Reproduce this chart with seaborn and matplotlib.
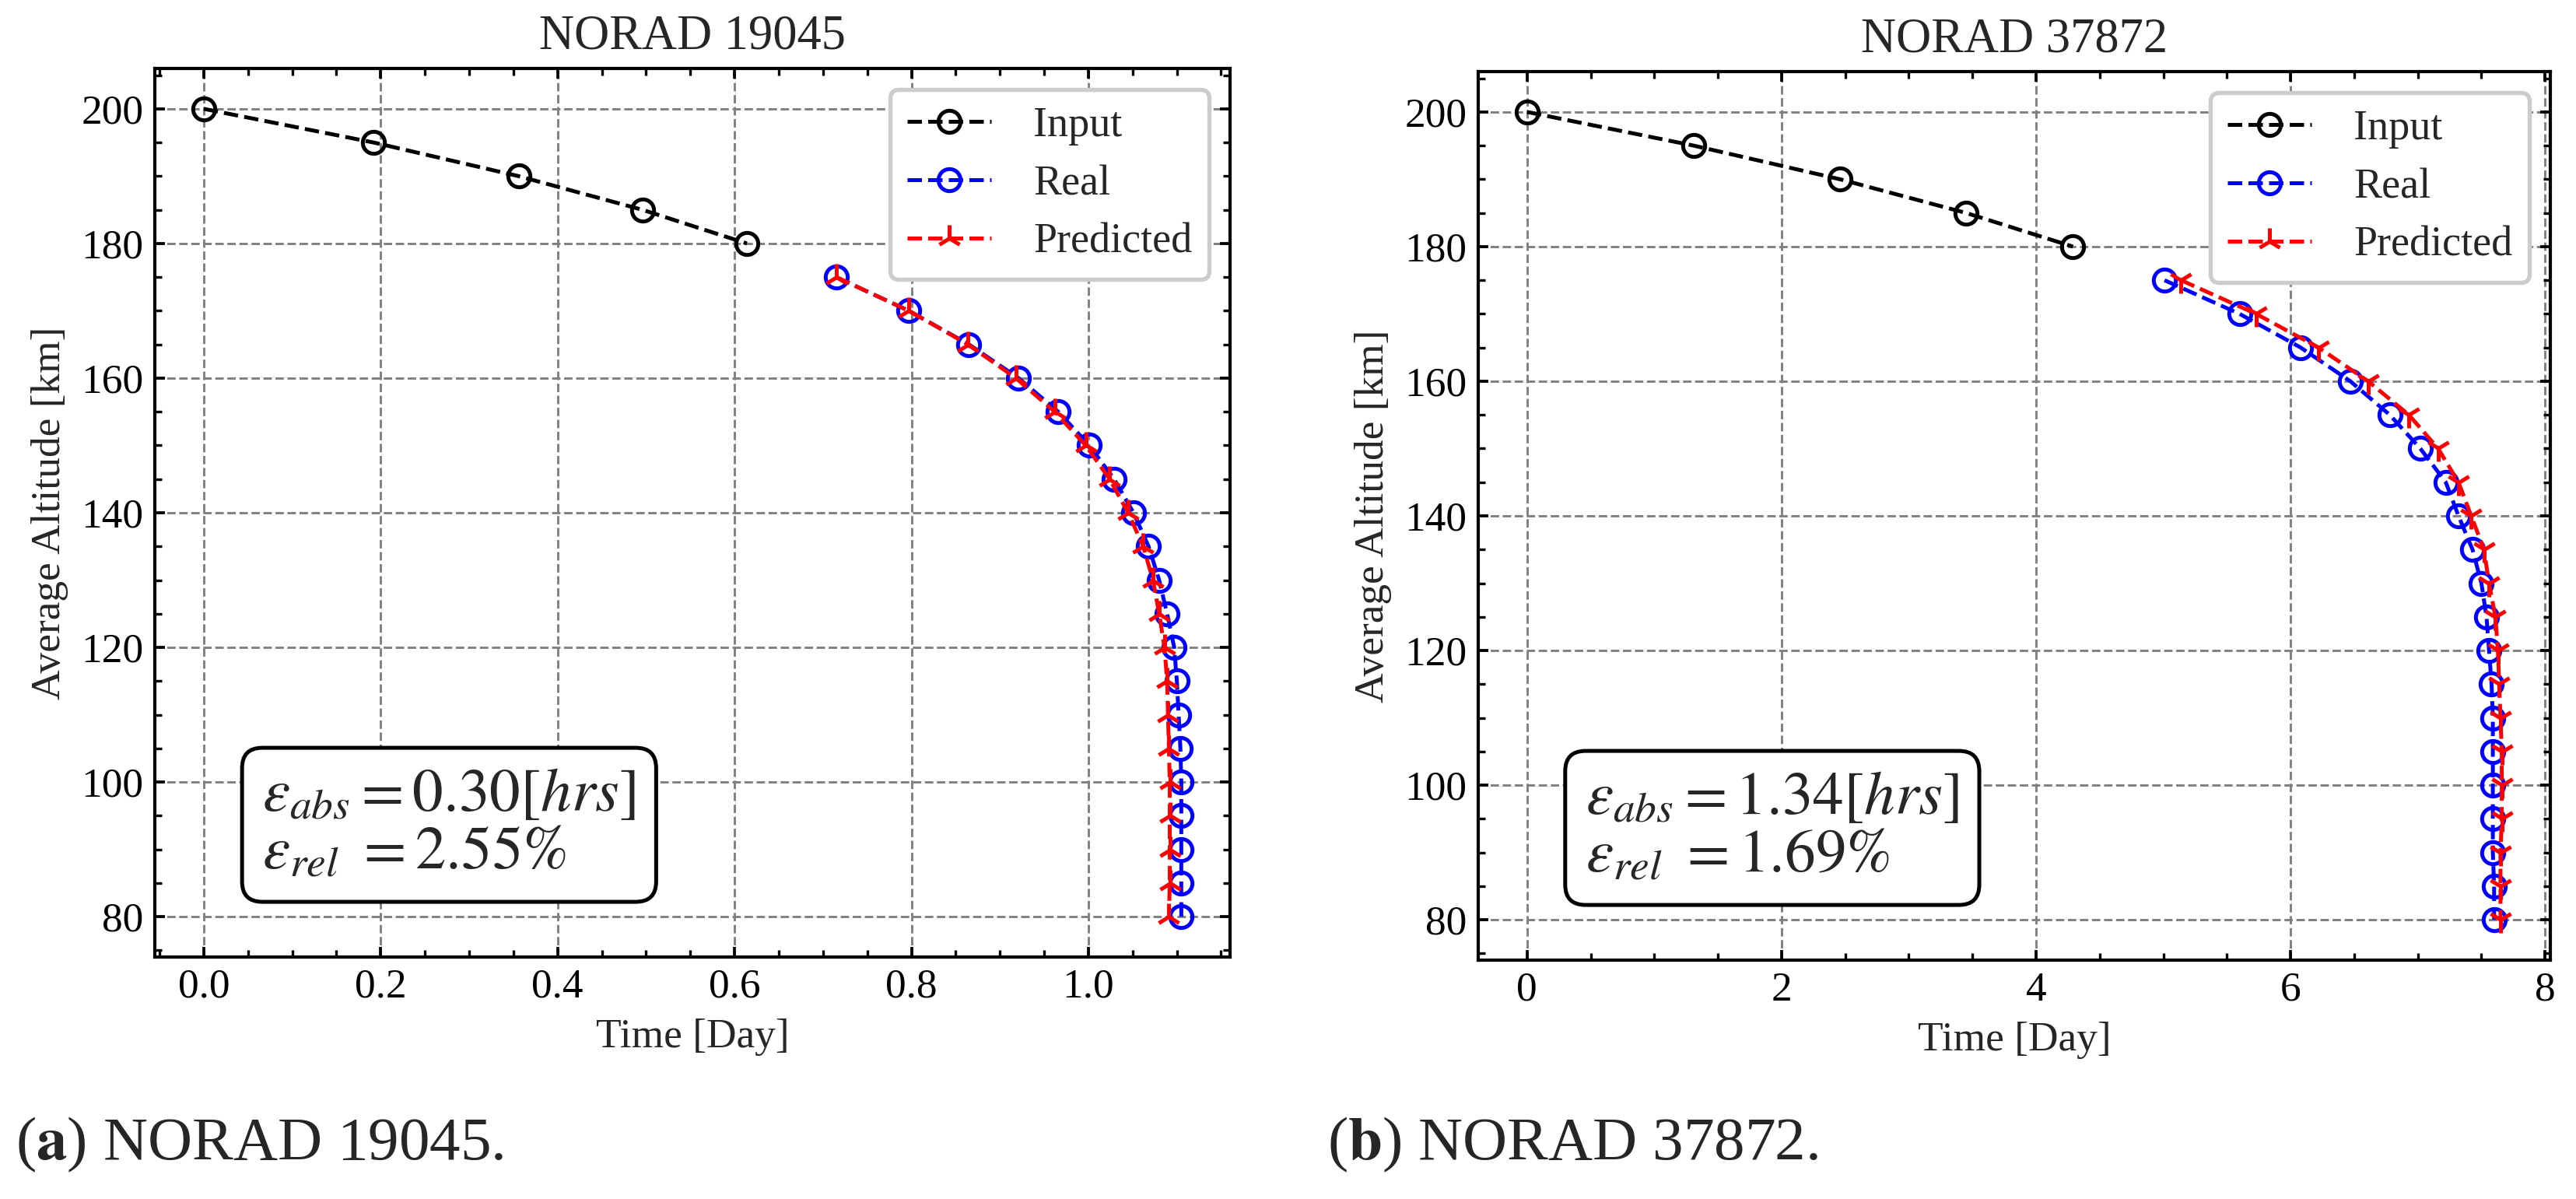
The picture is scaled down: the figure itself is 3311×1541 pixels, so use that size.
import matplotlib
matplotlib.use("Agg")
import matplotlib.pyplot as plt
import seaborn as sns
from matplotlib.lines import Line2D
from matplotlib.ticker import AutoMinorLocator

# altitudes [km]
alt_input = [200, 195, 190, 185, 180]
alt_future = [175, 170, 165, 160, 155, 150, 145, 140, 135, 130,
              125, 120, 115, 110, 105, 100, 95, 90, 85, 80]

# NORAD 19045, time [day]
t_in_a = [0.0, 0.192, 0.356, 0.496, 0.614]
t_real_a = [0.715, 0.797, 0.865, 0.921, 0.966, 1.001, 1.029, 1.051, 1.068, 1.080,
            1.089, 1.097, 1.100, 1.102, 1.104, 1.105, 1.105, 1.105, 1.105, 1.105]
t_pred_a = [0.715, 0.797, 0.864, 0.918, 0.962, 0.997, 1.024, 1.045, 1.062, 1.073,
            1.080, 1.086, 1.089, 1.090, 1.091, 1.092, 1.092, 1.092, 1.092, 1.091]

# NORAD 37872, time [day]
t_in_b = [0.0, 1.31, 2.46, 3.45, 4.29]
t_real_b = [5.01, 5.60, 6.08, 6.47, 6.78, 7.02, 7.22, 7.32, 7.43, 7.50,
            7.54, 7.56, 7.58, 7.59, 7.59, 7.59, 7.59, 7.59, 7.60, 7.60]
t_pred_b = [5.14, 5.73, 6.22, 6.61, 6.93, 7.16, 7.32, 7.42, 7.52, 7.56,
            7.61, 7.63, 7.64, 7.65, 7.66, 7.66, 7.66, 7.65, 7.65, 7.65]

titles = ["NORAD 19045", "NORAD 37872"]
err_abs = ["0.30", "1.34"]
err_rel = ["2.55", "1.69"]

sns.set_theme(style="ticks")
plt.rcParams["font.family"] = ["Liberation Serif", "DejaVu Serif"]
plt.rcParams["mathtext.fontset"] = "stix"
plt.rcParams.update({
    "xtick.direction": "in", "ytick.direction": "in",
    "xtick.top": True, "ytick.right": True,
    "xtick.minor.visible": True, "ytick.minor.visible": True,
    "xtick.major.size": 3.2, "ytick.major.size": 3.2,
    "xtick.minor.size": 2.1, "ytick.minor.size": 2.1,
    "xtick.major.width": 0.9, "ytick.major.width": 0.9,
    "xtick.minor.width": 0.8, "ytick.minor.width": 0.8,
    "axes.linewidth": 1.0,
    "axes.edgecolor": "black",
    "xtick.color": "black", "ytick.color": "black",
    "font.size": 12.8,
})

LW = 1.2
fig = plt.figure(figsize=(11.04, 5.1367), dpi=300)
ax_a = fig.add_axes([0.0601, 0.2018, 0.4173, 0.7411])
ax_b = fig.add_axes([0.5737, 0.1992, 0.4161, 0.7411])

panels = [
    (ax_a, t_in_a, t_real_a, t_pred_a, "2"),
    (ax_b, t_in_b, t_real_b, t_pred_b, "1"),
]

for i, (ax, t_in, t_real, t_pred, pm) in enumerate(panels):
    sns.lineplot(x=t_in, y=alt_input, ax=ax, sort=False, estimator=None,
                 color="black", linestyle="--", linewidth=LW, marker="o",
                 markersize=6.8, markerfacecolor="none", markeredgecolor="black",
                 markeredgewidth=LW)
    sns.lineplot(x=t_real, y=alt_future, ax=ax, sort=False, estimator=None,
                 color="blue", linestyle="--", linewidth=LW, marker="o",
                 markersize=6.8, markerfacecolor="none", markeredgecolor="blue",
                 markeredgewidth=LW)
    sns.lineplot(x=t_pred, y=alt_future, ax=ax, sort=False, estimator=None,
                 color="red", linestyle="--", linewidth=LW, marker=pm,
                 markersize=8, markeredgecolor="red", markeredgewidth=LW)

    ax.grid(True, color="#808080", linestyle="--", linewidth=0.7)
    ax.xaxis.set_minor_locator(AutoMinorLocator())
    ax.yaxis.set_minor_locator(AutoMinorLocator())
    ax.tick_params(labelsize=12.8)
    ax.set_title(titles[i], fontsize=15, pad=6)
    ax.set_xlabel("Time [Day]", fontsize=12.8)
    ax.set_ylabel("Average Altitude [km]", fontsize=12.8)

    handles = [
        Line2D([], [], color="black", ls="--", lw=LW, marker="o", ms=6.8,
               mfc="none", mec="black", mew=LW),
        Line2D([], [], color="blue", ls="--", lw=LW, marker="o", ms=6.8,
               mfc="none", mec="blue", mew=LW),
        Line2D([], [], color="red", ls="--", lw=LW, marker="2", ms=8,
               mec="red", mew=LW),
    ]
    leg = ax.legend(handles, ["Input", "Real", "Predicted"], loc="upper right",
                    fontsize=13, numpoints=1, handlelength=2.0,
                    handletextpad=1.0, labelspacing=0.45, fancybox=True,
                    framealpha=1.0, edgecolor="#cccccc")
    leg.get_frame().set_linewidth(1.3)

    txt = (r"$\varepsilon_{abs} = %s[hrs]$" % err_abs[i] + "\n"
           + r"$\varepsilon_{rel}\ = %s\%%$" % err_rel[i])
    ax.text(0.1, 0.085, txt, transform=ax.transAxes, fontsize=19,
            ha="left", va="bottom", linespacing=1.05,
            bbox=dict(boxstyle="round,pad=0.33", facecolor="white",
                      edgecolor="black", linewidth=1.2))

fig.text(0.006, 0.045, r"($\mathbf{a}$) NORAD 19045.", fontsize=19,
         ha="left", va="center")
fig.text(0.515, 0.045, r"($\mathbf{b}$) NORAD 37872.", fontsize=19,
         ha="left", va="center")

fig.savefig("out.png", dpi=300)
